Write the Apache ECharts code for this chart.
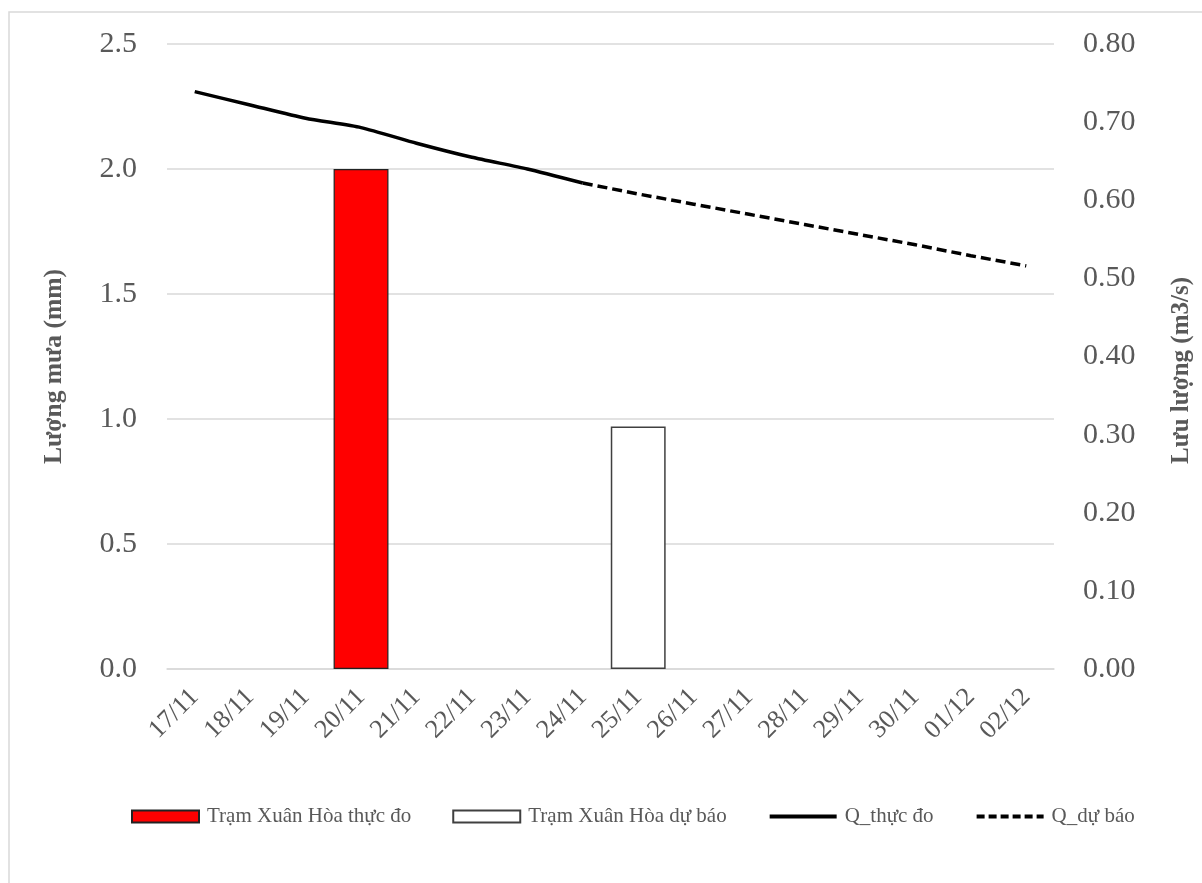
<!DOCTYPE html>
<html>
<head>
<meta charset="utf-8">
<script src="https://cdn.jsdelivr.net/npm/echarts@6/dist/echarts.min.js"></script>
<style>
html,body{margin:0;padding:0;background:#fff;}
#chart{width:1202px;height:883px;}
</style>
</head>
<body>
<div id="chart"></div>
<script>
const categories = ['17/11','18/11','19/11','20/11','21/11','22/11','23/11','24/11','25/11','26/11','27/11','28/11','29/11','30/11','01/12','02/12'];
const rainObserved = ['-','-','-',2.0,'-','-','-','-','-','-','-','-','-','-','-','-'];
const rainForecast = ['-','-','-','-','-','-','-','-',0.97,'-','-','-','-','-','-','-'];
const qObserved = [0.739,0.722,0.705,0.693,0.673,0.655,0.640,0.622,'-','-','-','-','-','-','-','-'];
const qForecast = ['-','-','-','-','-','-','-',0.622,0.608,0.595,0.582,0.569,0.556,0.543,0.529,0.516];
const leftTicks = {min:0, max:2.5, interval:0.5};
const rightTicks = {min:0, max:0.8, interval:0.1};

const FONT = '"Liberation Serif", "Times New Roman", serif';
const GREY = '#595959';
const NOSYM = {color:'rgba(0,0,0,0)', borderColor:'rgba(0,0,0,0)', borderWidth:0};
const chart = echarts.init(document.getElementById('chart'));
chart.setOption({
  animation:false,
  backgroundColor:'#fff',
  graphic:[{type:'rect', shape:{x:9, y:12, width:1200, height:880}, style:{fill:'none', stroke:'#d9d9d9', lineWidth:1.5}, silent:true}],
  grid:{left:167, right:145, top:44, bottom:214},
  legend:{
    left:126, top:801, itemWidth:67, itemHeight:12, itemGap:41,
    textStyle:{fontFamily:FONT, fontSize:21, color:GREY, padding:[0,0,0,3]},
    data:[
      {name:'Trạm Xuân Hòa thực đo', icon:'rect'},
      {name:'Trạm Xuân Hòa dự báo', icon:'rect'},
      {name:'Q_thực đo', itemStyle:NOSYM, lineStyle:{width:4}},
      {name:'Q_dự báo', itemStyle:NOSYM, lineStyle:{width:4, type:[8,4]}}
    ]
  },
  xAxis:{
    type:'category', data:categories,
    axisLine:{lineStyle:{color:'#d9d9d9', width:1.5}},
    axisTick:{show:false},
    axisLabel:{rotate:45, fontFamily:FONT, fontSize:26, color:GREY, margin:24, interval:0}
  },
  yAxis:[
    {type:'value', min:leftTicks.min, max:leftTicks.max, interval:leftTicks.interval,
     name:'Lượng mưa (mm)', nameLocation:'middle', nameGap:100, nameRotate:90,
     nameTextStyle:{fontFamily:FONT, fontSize:25.5, fontWeight:'bold', color:GREY, padding:[0,20,0,0]},
     axisLine:{show:false}, axisTick:{show:false},
     axisLabel:{fontFamily:FONT, fontSize:30, color:GREY, margin:30, formatter:v=>v.toFixed(1)},
     splitLine:{lineStyle:{color:'#d9d9d9', width:1.5}}},
    {type:'value', min:rightTicks.min, max:rightTicks.max, interval:rightTicks.interval,
     name:'Lưu lượng (m3/s)', nameLocation:'middle', nameGap:115, nameRotate:90,
     nameTextStyle:{fontFamily:FONT, fontSize:25, fontWeight:'bold', color:GREY, padding:[0,28,0,0]},
     axisLine:{show:false}, axisTick:{show:false},
     axisLabel:{fontFamily:FONT, fontSize:30, color:GREY, margin:29, formatter:v=>v.toFixed(2)},
     splitLine:{show:false}}
  ],
  series:[
    {name:'Trạm Xuân Hòa thực đo', type:'bar', yAxisIndex:0, data:rainObserved, barWidth:'99%', barGap:'-100%',
     itemStyle:{color:'#ff0000', borderColor:'#222', borderWidth:1.2}},
    {name:'Trạm Xuân Hòa dự báo', type:'bar', yAxisIndex:0, data:rainForecast, barWidth:'99%', barGap:'-100%',
     itemStyle:{color:'#ffffff', borderColor:'#404040', borderWidth:1.5}},
    {name:'Q_thực đo', type:'line', yAxisIndex:1, data:qObserved, symbol:'none', smooth:0.2,
     lineStyle:{color:'#000', width:3.5}, itemStyle:{color:'#000'}},
    {name:'Q_dự báo', type:'line', yAxisIndex:1, data:qForecast, symbol:'none',
     lineStyle:{color:'#000', width:3.5, type:[10,5]}, itemStyle:{color:'#000'}}
  ]
});
</script>
</body>
</html>
